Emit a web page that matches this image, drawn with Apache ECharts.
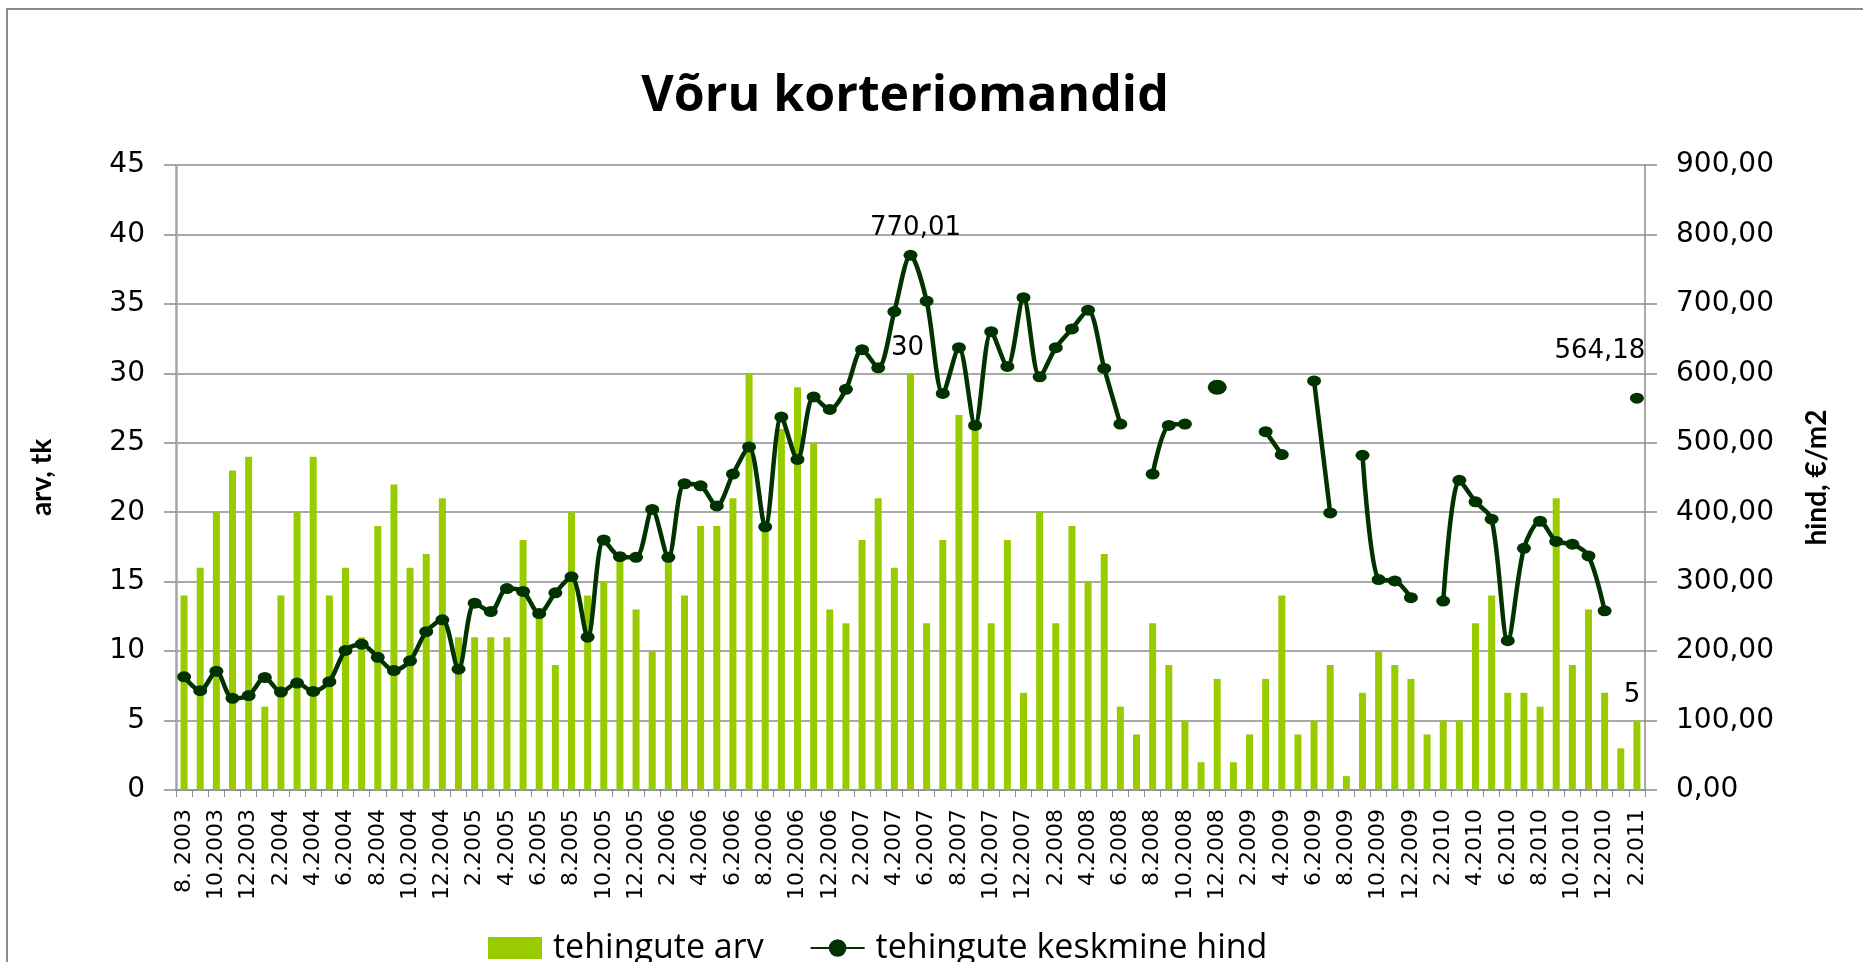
<!DOCTYPE html>
<html>
<head>
<meta charset="utf-8">
<script src="https://cdn.jsdelivr.net/npm/echarts@6/dist/echarts.min.js"></script>
<style>
  html, body { margin: 0; padding: 0; background: #ffffff; }
  #chart { width: 1863px; height: 962px; }
</style>
</head>
<body>
<div id="chart"></div>
<script>
// Months from August 2003 to February 2011
const categories = [
  '8. 2003', '9.2003', '10.2003', '11.2003', '12.2003',
  '1.2004', '2.2004', '3.2004', '4.2004', '5.2004', '6.2004', '7.2004', '8.2004', '9.2004', '10.2004', '11.2004', '12.2004',
  '1.2005', '2.2005', '3.2005', '4.2005', '5.2005', '6.2005', '7.2005', '8.2005', '9.2005', '10.2005', '11.2005', '12.2005',
  '1.2006', '2.2006', '3.2006', '4.2006', '5.2006', '6.2006', '7.2006', '8.2006', '9.2006', '10.2006', '11.2006', '12.2006',
  '1.2007', '2.2007', '3.2007', '4.2007', '5.2007', '6.2007', '7.2007', '8.2007', '9.2007', '10.2007', '11.2007', '12.2007',
  '1.2008', '2.2008', '3.2008', '4.2008', '5.2008', '6.2008', '7.2008', '8.2008', '9.2008', '10.2008', '11.2008', '12.2008',
  '1.2009', '2.2009', '3.2009', '4.2009', '5.2009', '6.2009', '7.2009', '8.2009', '9.2009', '10.2009', '11.2009', '12.2009',
  '1.2010', '2.2010', '3.2010', '4.2010', '5.2010', '6.2010', '7.2010', '8.2010', '9.2010', '10.2010', '11.2010', '12.2010',
  '1.2011', '2.2011'
];

// Number of transactions per month (tk)
const dealCounts = [
  14, 16, 20, 23, 24, 6, 14, 20, 24, 14,
  16, 11, 19, 22, 16, 17, 21, 11, 11, 11,
  11, 18, 13, 9, 20, 14, 15, 17, 13, 10,
  17, 14, 19, 19, 21, 30, 19, 26, 29, 25,
  13, 12, 18, 21, 16, 30, 12, 18, 27, 26,
  12, 18, 7, 20, 12, 19, 15, 17, 6, 4,
  12, 9, 5, 2, 8, 2, 4, 8, 14, 4,
  5, 9, 1, 7, 10, 9, 8, 4, 5, 5,
  12, 14, 7, 7, 6, 21, 9, 13, 7, 3,
  5
];

// Average price per month (€/m2); null where no price was recorded
const avgPrices = [
  163, 143, 171, 132, 136, 162, 141, 154, 142, 156,
  201, 210, 191, 172, 186, 228, 245, 174, 269, 257,
  290, 286, 254, 284, 307, 220, 360, 336, 335, 404,
  335, 441, 438, 409, 455, 494, 379, 537, 476, 566,
  548, 577, 634, 608, 689, 770.01, 704, 571, 637, 525,
  660, 610, 709, 595, 637, 664, 691, 607, 527, null,
  455, 525, 527, null, 580, null, null, 516, 483, null,
  589, 399, null, 482, 303, 301, 277, null, 272, 446,
  415, 390, 215, 348, 387, 358, 354, 337, 258, null,
  564.18
];

// Axis scales
const countAxis = { min: 0, max: 45, interval: 5 };
const priceAxis = { min: 0, max: 900, interval: 100 };

// Points that carry a value label
const labelledCounts = { 45: { offset: [-3, 0] }, 90: { offset: [-5, 0] } };
const labelledPrices = { 45: { offset: [5, 6] }, 90: { offset: [-37, -13] } };
const enlargedPrices = [64];

const fmtComma = (v, d) => v.toFixed(d).replace('.', ',');

const valueLabelStyle = {
  fontFamily: 'DejaVu Sans', fontSize: 26, color: '#000000'
};

const barData = dealCounts.map((v, i) => {
  if (labelledCounts[i]) {
    return {
      value: v,
      label: Object.assign({
        show: true, position: 'top', distance: 12,
        formatter: String(v)
      }, valueLabelStyle, labelledCounts[i])
    };
  }
  return v;
});

const lineData = avgPrices.map((v, i) => {
  const item = { value: v };
  if (v !== null && labelledPrices[i]) {
    item.label = Object.assign({
      show: true, position: 'top', distance: 15,
      formatter: fmtComma(v, 2)
    }, valueLabelStyle, labelledPrices[i]);
  }
  if (enlargedPrices.indexOf(i) >= 0) item.symbolSize = [19, 15];
  return item;
});

const chart = echarts.init(document.getElementById('chart'), null, { renderer: 'canvas' });

const gridGray = '#8c8c8c';

chart.setOption({
  backgroundColor: '#ffffff',
  animation: false,
  title: {
    text: 'Võru korteriomandid',
    left: 900, top: 67,
    textAlign: 'center',
    textStyle: { fontFamily: 'Open Sans', fontWeight: 'bold', fontSize: 50, color: '#000000' }
  },
  graphic: [{
    type: 'polyline',
    shape: { points: [[7, 962], [7, 9], [1863, 9]] },
    style: { stroke: '#8a8a8a', lineWidth: 2, fill: null }
  }],
  legend: {
    left: 483, top: 926,
    itemWidth: 54, itemHeight: 22, itemGap: 46,
    textStyle: { fontFamily: 'Open Sans', fontSize: 34, color: '#000000', padding: [0, 0, 0, 6] },
    data: [
      { name: 'tehingute arv', icon: 'rect' },
      { name: 'tehingute keskmine hind' }
    ]
  },
  grid: { left: 176, right: 218, top: 165, bottom: 172, containLabel: false },
  xAxis: {
    type: 'category',
    data: categories,
    boundaryGap: true,
    axisLine: { show: true, lineStyle: { color: gridGray, width: 1.5 } },
    axisTick: { show: true, interval: 0, length: 7, lineStyle: { color: gridGray, width: 1 } },
    axisLabel: {
      interval: 1, rotate: 90, margin: 19,
      fontFamily: 'DejaVu Sans', fontSize: 22, color: '#000000'
    },
    splitLine: { show: false }
  },
  yAxis: [
    {
      type: 'value',
      min: countAxis.min, max: countAxis.max, interval: countAxis.interval,
      name: 'arv, tk',
      nameLocation: 'middle', nameRotate: 90, nameGap: 120,
      nameTextStyle: { fontFamily: 'Lato', fontWeight: 'bold', fontSize: 28, color: '#000000' },
      axisLine: { show: true, lineStyle: { color: '#a6a6a6', width: 2.5 } },
      axisTick: { show: true, length: 12, inside: false, lineStyle: { color: gridGray, width: 1.5 } },
      axisLabel: { margin: 31, fontFamily: 'DejaVu Sans', fontSize: 28, color: '#000000' },
      splitLine: { show: true, lineStyle: { color: gridGray, width: 1.5 } }
    },
    {
      type: 'value',
      min: priceAxis.min, max: priceAxis.max, interval: priceAxis.interval,
      name: 'hind, €/m2',
      nameLocation: 'middle', nameRotate: 90, nameGap: 158,
      nameTextStyle: { fontFamily: 'Lato', fontWeight: 'bold', fontSize: 28, color: '#000000' },
      axisLine: { show: true, lineStyle: { color: gridGray, width: 1.5 } },
      axisTick: { show: true, length: 12, inside: false, lineStyle: { color: gridGray, width: 1.5 } },
      axisLabel: {
        margin: 31, fontFamily: 'DejaVu Sans', fontSize: 28, color: '#000000',
        formatter: v => fmtComma(v, 2)
      },
      splitLine: { show: false }
    }
  ],
  series: [
    {
      name: 'tehingute arv',
      type: 'bar',
      yAxisIndex: 0,
      data: barData,
      barWidth: 7,
      itemStyle: { color: '#99cc00' },
      z: 2
    },
    {
      name: 'tehingute keskmine hind',
      type: 'line',
      yAxisIndex: 1,
      data: lineData,
      smooth: 0.3,
      connectNulls: false,
      showSymbol: true,
      showAllSymbol: true,
      symbol: 'circle',
      symbolSize: [14, 11],
      lineStyle: { color: '#003300', width: 4.5 },
      itemStyle: { color: '#003300' },
      z: 3
    }
  ]
});
</script>
</body>
</html>
